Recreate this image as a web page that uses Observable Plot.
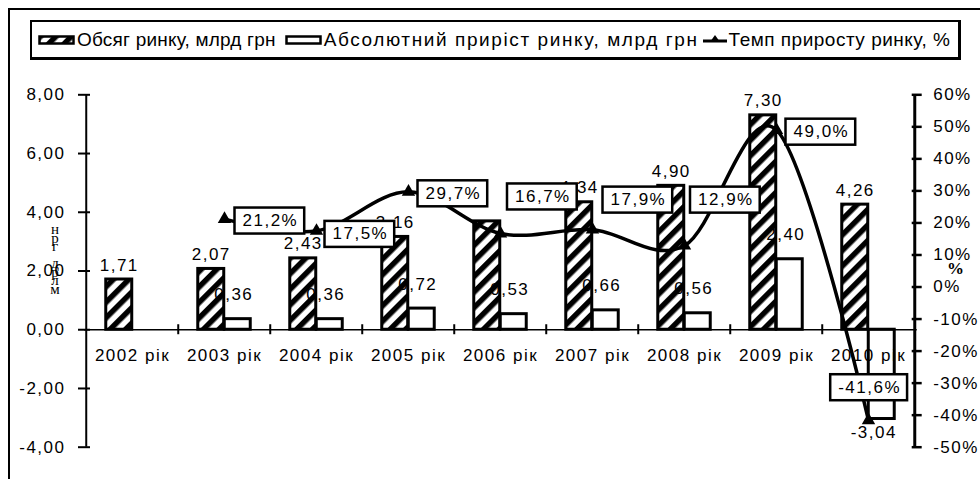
<!DOCTYPE html>
<html>
<head>
<meta charset="utf-8">
<script src="https://cdn.jsdelivr.net/npm/d3@7"></script>
<script src="https://cdn.jsdelivr.net/npm/@observablehq/plot@0.6"></script>
<style>
  body { margin: 0; background: #fff; }
  #wrap { position: relative; width: 980px; height: 479px; overflow: hidden; font-family: "Liberation Sans", Arial, sans-serif; }
  #wrap > svg { position: absolute; left: 0; top: 0; }
  #wrap > svg text { letter-spacing: 1.5px; }
  #frame { position: absolute; left: 8px; top: 8px; width: 1000px; height: 500px; border-left: 2px solid #000; border-top: 2px solid #000; }
  #legend { position: absolute; left: 30px; top: 20px; width: 931px; height: 40px; box-sizing: border-box;
            border: 2px solid #000; border-right-width: 3px; border-bottom-width: 3px; background: #fff;
            display: flex; align-items: center; padding-left: 6px; font-size: 19px; white-space: nowrap; }
  #legend .sw { display: inline-block; line-height: 0; }
  #legend .txt { margin-left: 2px; }
  #ytitle { position: absolute; left: 47px; top: 221px; font-family: "Liberation Serif", serif; font-size: 15px; white-space: nowrap;
            writing-mode: vertical-lr; text-orientation: upright; direction: rtl; unicode-bidi: bidi-override; letter-spacing: -7.5px; line-height: 15px; }
  #y2title { position: absolute; left: 947px; top: 259px; font-family: "Liberation Serif", serif; font-weight: bold; font-size: 17px; }
</style>
</head>
<body>
<div id="wrap">
  <div id="frame"></div>
</div>
<script>
// ---------------- data ----------------
const years = ["2002 рік", "2003 рік", "2004 рік", "2005 рік", "2006 рік", "2007 рік", "2008 рік", "2009 рік", "2010 рік"];
const marketVolume = [1.71, 2.07, 2.43, 3.16, 3.69, 4.34, 4.90, 7.30, 4.26];
const absoluteGrowth = [null, 0.36, 0.36, 0.72, 0.53, 0.66, 0.56, 2.40, -3.04];
const growthRate = [null, 21.2, 17.5, 29.7, 16.7, 17.9, 12.9, 49.0, -41.6];
const leftTicks = [-4, -2, 0, 2, 4, 6, 8];
const rightTicks = [-50, -40, -30, -20, -10, 0, 10, 20, 30, 40, 50, 60];
const seriesNames = ["Обсяг ринку, млрд грн", "Абсолютний приріст ринку, млрд грн", "Темп приросту ринку, %"];
const leftAxisTitle = "млрд грн";
const rightAxisTitle = "%";
const hiddenVolumeLabels = ["2006 рік"];

// label placement (layout only): [box left offset from point, vertical offset], 2003..2010
const rateLabelShift = [[10, 1.5], [8, 3], [9, 1.5], [6.5, -37], [10, -30], [5.5, -46], [9, 1.7], [-38.3, -33]];

// ---------------- layout ----------------
const W = 980, H = 479;
const mL = 84, mR = 63.3, mT = 94.3, mB = 32.3;
const plotW = W - mL - mR;
const step = plotW / years.length;
const half = step / 2;
const barW = 26.5;

const rows = years.map((year, i) => ({year, volume: marketVolume[i], abs: absoluteGrowth[i], rate: growthRate[i]}));
const absRows = rows.filter(d => d.abs != null);
const rateRows = rows.filter(d => d.rate != null);
const fmt2 = v => v.toFixed(2).replace(".", ",");
const fmt1 = v => v.toFixed(1).replace(".", ",") + "%";

const common = {
  width: W, height: H, marginLeft: mL, marginRight: mR, marginTop: mT, marginBottom: mB,
  x: {type: "band", domain: years, padding: 0, axis: null},
  style: {fontFamily: '"Liberation Sans", Arial, sans-serif', fontSize: "17px", color: "black", background: "transparent", overflow: "visible"}
};

const chart1 = Plot.plot({
  ...common,
  y: {domain: [-4, 8], axis: null},
  marks: [
    Plot.barY(rows, {x: "year", y: "volume", fill: "url(#hatch)", stroke: "black", strokeWidth: 3, insetLeft: half - barW, insetRight: half}),
    Plot.barY(absRows, {x: "year", y: "abs", fill: "white", stroke: "black", strokeWidth: 3, insetLeft: half, insetRight: half - barW}),
    Plot.ruleY([0], {stroke: "black", strokeWidth: 1.5}),
    Plot.ruleX(years.slice(1), {x: d => d, y1: () => 0, y2: () => 0, insetTop: -5, insetBottom: -5, dx: -half, strokeWidth: 2}),
    Plot.ruleX([years[0]], {x: d => d, dx: -half, strokeWidth: 2}),
    Plot.ruleY(leftTicks, {y: d => d, insetLeft: -6, insetRight: plotW - 6, strokeWidth: 2}),
    Plot.axisY({ticks: leftTicks, anchor: "left", tickSize: 0, tickPadding: 19, tickFormat: fmt2, label: null}),
    Plot.text(years, {x: d => d, y: () => 0, text: d => d, lineAnchor: "top", dy: 19}),
    Plot.text(rows.filter(d => !hiddenVolumeLabels.includes(d.year)), {x: "year", y: "volume", text: d => fmt2(d.volume), lineAnchor: "bottom", dx: -barW / 2, dy: -9}),
    Plot.text(absRows.filter(d => d.abs >= 0), {x: "year", y: "abs", text: d => fmt2(d.abs), lineAnchor: "bottom", dx: barW / 2 - 4, dy: -19}),
    Plot.text(absRows.filter(d => d.abs < 0), {x: "year", y: "abs", text: d => fmt2(d.abs), lineAnchor: "top", dx: barW / 2 - 8, dy: 7})
  ]
});

const chart2 = Plot.plot({
  ...common,
  y: {domain: [-50, 60], axis: null},
  marks: [
    Plot.ruleX([years[years.length - 1]], {x: d => d, dx: half, strokeWidth: 3}),
    Plot.ruleY(rightTicks, {y: d => d, insetLeft: plotW - 5, insetRight: -5, strokeWidth: 2.5}),
    Plot.axisY({ticks: rightTicks, anchor: "right", tickSize: 0, tickPadding: 16, tickFormat: d => d + "%", label: null}),
    Plot.line(rateRows, {x: "year", y: "rate", curve: "cardinal", tension: 0, stroke: "black", strokeWidth: 3.5}),
    Plot.dot(rateRows, {x: "year", y: "rate", symbol: "triangle", fill: "black", r: 5}),
    ...rateRows.map((d, i) => Plot.text([d], {x: "year", y: "rate", text: r => fmt1(r.rate), textAnchor: "start", lineAnchor: "middle",
      dx: rateLabelShift[i][0] + 8, dy: rateLabelShift[i][1]}))
  ]
});

const wrap = document.getElementById("wrap");
wrap.appendChild(chart1);
wrap.appendChild(chart2);

// hatch pattern
chart1.insertAdjacentHTML("afterbegin",
  '<defs><pattern id="hatch" patternUnits="userSpaceOnUse" width="11" height="11" patternTransform="rotate(45)">' +
  '<rect width="11" height="11" fill="white"/><rect width="5.5" height="11" fill="black"/></pattern></defs>');

// boxes behind growth-rate labels
const ns = "http://www.w3.org/2000/svg";
const rateTexts = new Set(rateRows.map(d => fmt1(d.rate)));
Array.from(chart2.querySelectorAll("text")).filter(t => rateTexts.has(t.textContent)).forEach(t => {
  const b = t.getBBox();
  const r = document.createElementNS(ns, "rect");
  const bh = 26;
  r.setAttribute("x", b.x - 8);
  r.setAttribute("y", b.y + b.height / 2 - bh / 2);
  r.setAttribute("width", b.width + 14);
  r.setAttribute("height", bh);
  r.setAttribute("fill", "white");
  r.setAttribute("stroke", "black");
  r.setAttribute("stroke-width", 2.5);
  if (t.getAttribute("transform")) r.setAttribute("transform", t.getAttribute("transform"));
  t.parentNode.insertBefore(r, t);
});

// legend
const legend = document.createElement("div");
legend.id = "legend";
const swatches = [
  '<svg width="37" height="10"><rect x="1.5" y="1.5" width="34" height="7" fill="url(#hatch)" stroke="black" stroke-width="2.5"/></svg>',
  '<svg width="37" height="10"><rect x="1.5" y="1.5" width="34" height="7" fill="white" stroke="black" stroke-width="2.5"/></svg>',
  '<svg width="24" height="12"><line x1="0" y1="7" x2="24" y2="7" stroke="black" stroke-width="3"/><path d="M12,1 L17,8 L7,8 Z" fill="black"/></svg>'
];
const gaps = [0, 9, 4];
const spacing = [0.2, 1.6, 0.5];
seriesNames.forEach((name, i) => {
  const sw = document.createElement("span");
  sw.className = "sw";
  sw.style.marginLeft = gaps[i] + "px";
  sw.innerHTML = swatches[i];
  const tx = document.createElement("span");
  tx.className = "txt";
  tx.style.letterSpacing = spacing[i] + "px";
  tx.textContent = name;
  legend.appendChild(sw);
  legend.appendChild(tx);
});
wrap.appendChild(legend);

const yt = document.createElement("div");
yt.id = "ytitle";
yt.textContent = leftAxisTitle;
wrap.appendChild(yt);
const y2t = document.createElement("div");
y2t.id = "y2title";
y2t.textContent = rightAxisTitle;
wrap.appendChild(y2t);
</script>
</body>
</html>
